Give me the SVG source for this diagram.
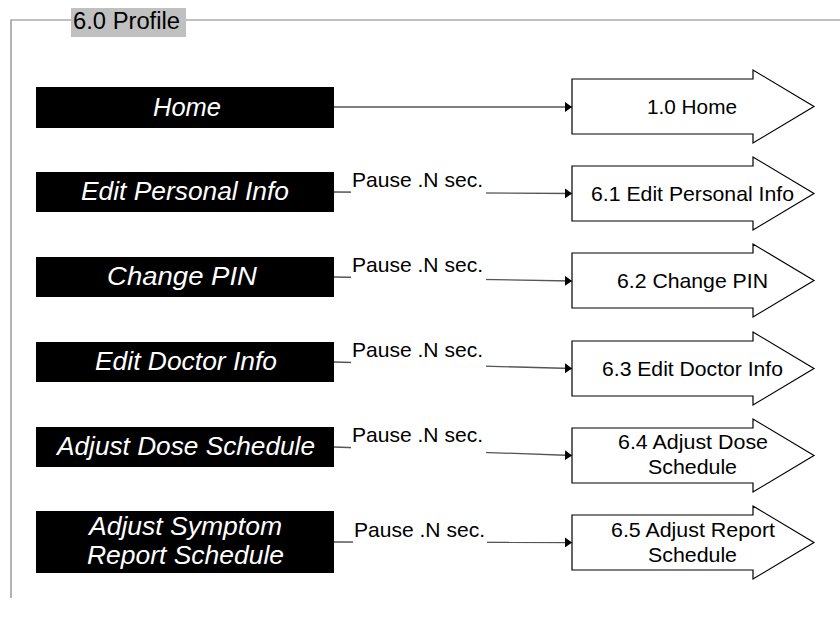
<svg xmlns="http://www.w3.org/2000/svg" width="840" height="618" viewBox="0 0 840 618">
<defs>
<marker id="ah" markerWidth="7" markerHeight="10" refX="7" refY="5" orient="auto" markerUnits="userSpaceOnUse">
<path d="M0,0 L7,5 L0,10 Z" fill="#000"/>
</marker>
</defs>
<style>
.frame{fill:none;stroke:#808080;stroke-width:1.2}
.box{fill:#000}
.bt{font-family:"Liberation Sans",Arial,sans-serif;font-style:italic;font-size:26px;fill:#fff}
.arr{fill:#fff;stroke:#000;stroke-width:1.2}
.at{font-family:"Liberation Sans",Arial,sans-serif;font-size:21px;fill:#000}
.conn{fill:none;stroke:#555;stroke-width:1.3;marker-end:url(#ah)}
.lbg{fill:#fff}
.lt{font-family:"Liberation Sans",Arial,sans-serif;font-size:21px;fill:#000}
.hdr{font-family:"Liberation Sans",Arial,sans-serif;font-size:23px;fill:#000}
</style>
<rect width="840" height="618" fill="#fff"/>
<g id="frame">
<path class="frame" d="M11,598 L11,20 L71,20 M186,20 L840,20"/>
<rect x="71" y="8" width="115" height="29" fill="#c0c0c0"/>
<text class="hdr" x="73" y="29" textLength="107" lengthAdjust="spacingAndGlyphs">6.0 Profile</text>
</g>
<g id="connectors">
<path class="conn" d="M334,107 L572,107"/>
<path class="conn" d="M334,192 L572,193.5"/>
<path class="conn" d="M334,277 L572,281"/>
<path class="conn" d="M334,362 L572,368.5"/>
<path class="conn" d="M334,447 L572,455.5"/>
<path class="conn" d="M334,542 L572,542.5"/>
<g id="labels">
<rect class="lbg" x="351" y="170" width="135" height="26"/>
<text class="lt" x="352" y="187" textLength="131" lengthAdjust="spacingAndGlyphs">Pause .N sec.</text>
<rect class="lbg" x="351" y="255" width="135" height="28"/>
<text class="lt" x="352" y="272" textLength="131" lengthAdjust="spacingAndGlyphs">Pause .N sec.</text>
<rect class="lbg" x="351" y="340" width="135" height="29"/>
<text class="lt" x="352" y="357" textLength="131" lengthAdjust="spacingAndGlyphs">Pause .N sec.</text>
<rect class="lbg" x="351" y="425" width="135" height="30"/>
<text class="lt" x="352" y="442" textLength="131" lengthAdjust="spacingAndGlyphs">Pause .N sec.</text>
<rect class="lbg" x="353" y="520" width="134" height="26"/>
<text class="lt" x="354" y="537" textLength="131" lengthAdjust="spacingAndGlyphs">Pause .N sec.</text>
</g>
</g>
<g id="n-home">
<rect class="box" x="36" y="87" width="298" height="41"/>
<text class="bt" x="153" y="116" textLength="68" lengthAdjust="spacingAndGlyphs">Home</text>
</g>
<g id="n-edit-personal">
<rect class="box" x="36" y="172" width="298" height="40"/>
<text class="bt" x="81" y="200" textLength="208" lengthAdjust="spacingAndGlyphs">Edit Personal Info</text>
</g>
<g id="n-change-pin">
<rect class="box" x="36" y="257" width="298" height="40"/>
<text class="bt" x="107" y="285" textLength="150" lengthAdjust="spacingAndGlyphs">Change PIN</text>
</g>
<g id="n-edit-doctor">
<rect class="box" x="36" y="342" width="298" height="40"/>
<text class="bt" x="95" y="370" textLength="182" lengthAdjust="spacingAndGlyphs">Edit Doctor Info</text>
</g>
<g id="n-adjust-dose">
<rect class="box" x="36" y="427" width="298" height="40"/>
<text class="bt" x="57" y="455" textLength="258" lengthAdjust="spacingAndGlyphs">Adjust Dose Schedule</text>
</g>
<g id="n-adjust-symptom">
<rect class="box" x="36" y="511" width="298" height="62"/>
<text class="bt" x="89" y="535" textLength="193" lengthAdjust="spacingAndGlyphs">Adjust Symptom</text>
<text class="bt" x="87" y="564" textLength="197" lengthAdjust="spacingAndGlyphs">Report Schedule</text>
</g>
<g id="a-home">
<polygon class="arr" points="572,79 753,79 753,70 814,106.5 753,143 753,134 572,134"/>
<text class="at" x="647" y="114" textLength="90" lengthAdjust="spacingAndGlyphs">1.0 Home</text>
</g>
<g id="a-edit-personal">
<polygon class="arr" points="572,166 753,166 753,157 814,193.5 753,230 753,221 572,221"/>
<text class="at" x="591" y="201" textLength="203" lengthAdjust="spacingAndGlyphs">6.1 Edit Personal Info</text>
</g>
<g id="a-change-pin">
<polygon class="arr" points="572,253 753,253 753,244 814,280.5 753,317 753,308 572,308"/>
<text class="at" x="617" y="288" textLength="151" lengthAdjust="spacingAndGlyphs">6.2 Change PIN</text>
</g>
<g id="a-edit-doctor">
<polygon class="arr" points="572,341 753,341 753,332 814,368.5 753,405 753,396 572,396"/>
<text class="at" x="602" y="376" textLength="181" lengthAdjust="spacingAndGlyphs">6.3 Edit Doctor Info</text>
</g>
<g id="a-adjust-dose">
<polygon class="arr" points="572,428 753,428 753,419 814,455.5 753,492 753,483 572,483"/>
<text class="at" x="618" y="449" textLength="150" lengthAdjust="spacingAndGlyphs">6.4 Adjust Dose</text>
<text class="at" x="648" y="474" textLength="89" lengthAdjust="spacingAndGlyphs">Schedule</text>
</g>
<g id="a-adjust-report">
<polygon class="arr" points="572,515 753,515 753,506 814,542.5 753,579 753,570 572,570"/>
<text class="at" x="611" y="537" textLength="164" lengthAdjust="spacingAndGlyphs">6.5 Adjust Report</text>
<text class="at" x="648" y="562" textLength="89" lengthAdjust="spacingAndGlyphs">Schedule</text>
</g>
</svg>
